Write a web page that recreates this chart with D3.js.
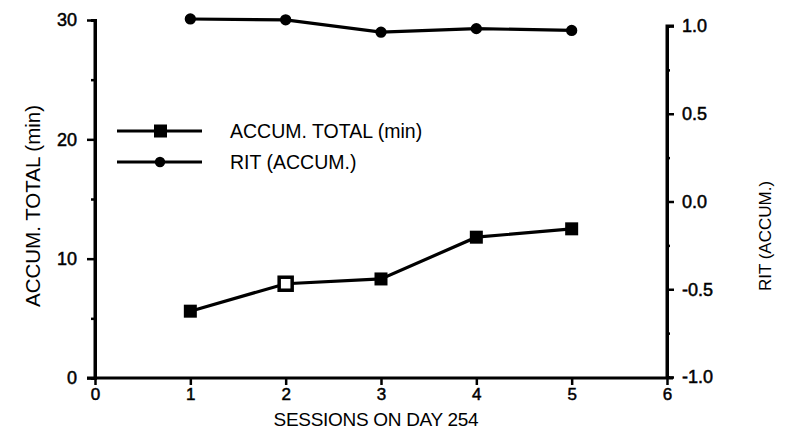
<!DOCTYPE html>
<html><head><meta charset="utf-8">
<script src="https://cdn.jsdelivr.net/npm/d3@7"></script>
<style>body{margin:0;background:#fff}svg{display:block}text{font-family:"Liberation Sans",Arial,sans-serif;fill:#000}</style>
</head><body><svg id="c" width="788" height="447"></svg>
<script>
const sessions = [1, 2, 3, 4, 5];
const accumTotal = [5.6, 7.9, 8.3, 11.8, 12.5];
const ritAccum = [1.04, 1.035, 0.965, 0.985, 0.975];
const openMarker = [false, true, false, false, false];
const xTicks = [0, 1, 2, 3, 4, 5, 6];
const leftTicks = [0, 10, 20, 30];
const leftMinor = [5, 15, 25];
const rightTicks = [-1.0, -0.5, 0.0, 0.5, 1.0];
const rightMinor = [-0.75, -0.25, 0.25, 0.75];
const legendLabels = ["ACCUM. TOTAL (min)", "RIT (ACCUM.)"];

const svg = d3.select("#c");
const x = d3.scaleLinear().domain([0, 6]).range([95, 667]);
const yL = d3.scaleLinear().domain([0, 30]).range([378, 20]);
const yR = d3.scaleLinear().domain([-1, 1]).range([377, 26]);

const sw = 3;
const fmtR = d => d3.format(".1f")(d).replace("\u2212", "-");
// left axis
const gL = svg.append("g").attr("transform", `translate(${x(0)},0)`);
gL.call(d3.axisLeft(yL).tickValues(leftTicks).tickSize(8).tickPadding(10).tickFormat(d3.format("d")));
gL.append("g").call(d3.axisLeft(yL).tickValues(leftMinor).tickSize(4).tickFormat(""));
// right axis
const gR = svg.append("g").attr("transform", `translate(${x(6)},0)`);
gR.call(d3.axisRight(yR).tickValues(rightTicks).tickSize(7).tickPadding(8).tickFormat(fmtR));
gR.append("g").call(d3.axisRight(yR).tickValues(rightMinor).tickSize(3).tickFormat(""));
// bottom axis
const gB = svg.append("g").attr("transform", `translate(0,${yL(0)})`);
gB.call(d3.axisBottom(x).tickValues(xTicks).tickSize(7).tickPadding(3).tickFormat(d3.format("d")));

svg.selectAll(".domain").attr("stroke", "#000").attr("stroke-width", sw);
svg.selectAll(".tick line").attr("stroke", "#000").attr("stroke-width", 2.5);
svg.selectAll(".tick text").style("font-size", "18px").attr("fill", "#000")
  .attr("stroke", "#000").attr("stroke-width", 0.5);
gB.selectAll(".tick text").style("font-size", "17px");
gL.select(".domain").attr("d", `M0,${yL(30)}V${yL(0)}`);
gR.select(".domain").attr("d", `M7,${yR(1)}H0V${yL(0)}`);
gB.select(".domain").attr("d", `M${x(0)-8},0H${x(6)+6}`);

// axis titles
svg.append("text").attr("transform", `translate(40,206) rotate(-90)`).attr("text-anchor", "middle")
  .style("font-size", "20.5px").text("ACCUM. TOTAL (min)");
svg.append("text").attr("transform", `translate(771,236) rotate(-90)`).attr("text-anchor", "middle")
  .style("font-size", "17px").text("RIT (ACCUM.)");
svg.append("text").attr("x", 376).attr("y", 426).attr("text-anchor", "middle")
  .style("font-size", "19px").style("letter-spacing", "-0.3px").text("SESSIONS ON DAY 254");

// lines
const lineL = d3.line().x((d, i) => x(sessions[i])).y(d => yL(d));
const lineR = d3.line().x((d, i) => x(sessions[i])).y(d => yR(d));
svg.append("path").attr("d", lineL(accumTotal)).attr("fill", "none").attr("stroke", "#000").attr("stroke-width", 3.2);
svg.append("path").attr("d", lineR(ritAccum)).attr("fill", "none").attr("stroke", "#000").attr("stroke-width", 3.2);

// markers
svg.selectAll(".sq").data(accumTotal).join("rect")
  .attr("x", (d, i) => x(sessions[i]) - 6.5).attr("y", d => yL(d) - 6.5)
  .attr("width", 13).attr("height", 13)
  .attr("fill", (d, i) => openMarker[i] ? "#fff" : "#000")
  .attr("stroke", "#000").attr("stroke-width", (d, i) => openMarker[i] ? 3.5 : 0);
svg.selectAll(".dm").data(ritAccum).join("path")
  .attr("transform", (d, i) => `translate(${x(sessions[i])},${yR(d)})`)
  .attr("d", d3.symbol(d3.symbolCircle, 100)).attr("fill", "#000");

// legend
const lg = svg.append("g");
const rows = [131, 162];
rows.forEach((ry, i) => {
  lg.append("line").attr("x1", 117).attr("x2", 202).attr("y1", ry).attr("y2", ry).attr("stroke", "#000").attr("stroke-width", 2.8);
  if (i === 0) lg.append("rect").attr("x", 154).attr("y", ry - 6.5).attr("width", 13).attr("height", 13).attr("fill", "#000");
  else lg.append("path").attr("transform", `translate(160,${ry})`).attr("d", d3.symbol(d3.symbolCircle, 85)).attr("fill", "#000");
  lg.append("text").attr("x", 230).attr("y", ry + 7).style("font-size", "19.5px").text(legendLabels[i]);
});
</script></body></html>
